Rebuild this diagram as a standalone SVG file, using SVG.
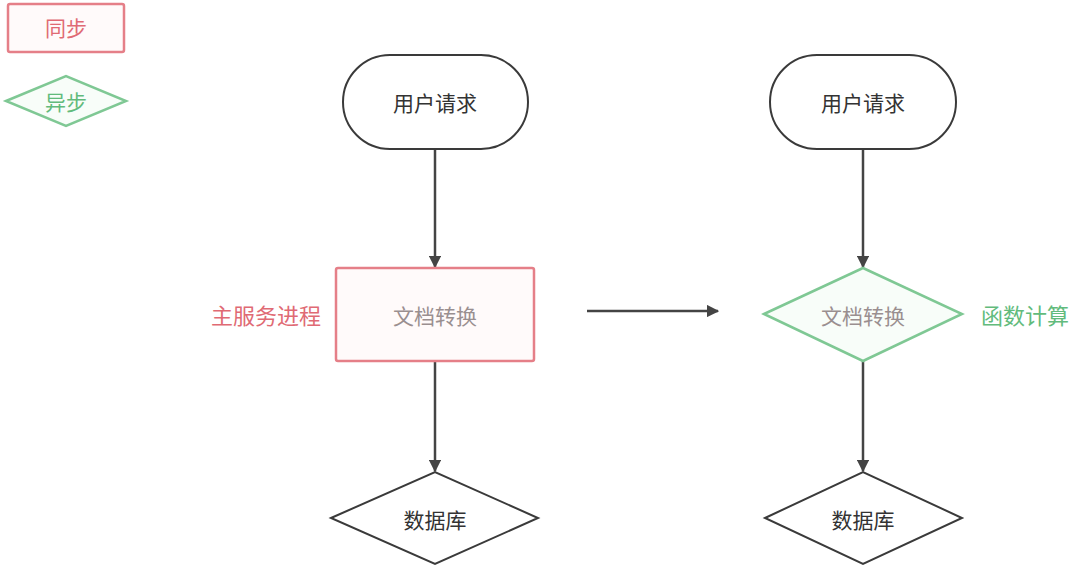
<svg xmlns="http://www.w3.org/2000/svg" width="1080" height="567" viewBox="0 0 1080 567">
<style>
text{font-family:"Liberation Sans","Noto Sans CJK SC",sans-serif;font-size:21px;text-anchor:middle;dominant-baseline:central}
.side{font-size:22px}
.dark{fill:#fff;stroke:#3a3a3a;stroke-width:2}
.red{fill:#fffafa;stroke:#e57f88;stroke-width:2.5}
.green{fill:#f8fdf9;stroke:#7fc894;stroke-width:2.5}
.tdark{fill:#333}
.tred{fill:#e06a74}
.tgreen{fill:#62bb7c}
.tmuted{fill:#9a8f90}
.conn{stroke:#444;stroke-width:2.5;fill:none;marker-end:url(#arr)}
</style>
<defs>
<marker id="arr" viewBox="0 0 10 10" refX="9" refY="5" markerWidth="5" markerHeight="5" orient="auto" markerUnits="strokeWidth">
<path d="M0,0 L10,5 L0,10 z" fill="#444"/>
</marker>
</defs>
<g id="legend-sync"><rect class="red" x="8" y="4" width="116" height="48" rx="2"/><text class="tred" x="66" y="28">同步</text></g>
<g id="legend-async"><polygon class="green" points="6,101 66,76 126,101 66,126"/><text class="tgreen" x="66" y="102">异步</text></g>
<g id="connectors">
<line class="conn" x1="435" y1="149" x2="435" y2="267"/>
<line class="conn" x1="435" y1="361" x2="435" y2="471"/>
<line class="conn" x1="863" y1="149" x2="863" y2="267"/>
<line class="conn" x1="863" y1="361" x2="863" y2="471"/>
<line class="conn" x1="587" y1="311" x2="718" y2="311"/>
</g>
<g id="left-request"><rect class="dark" x="343" y="55" width="185" height="94" rx="47"/><text class="tdark" x="435" y="103">用户请求</text></g>
<g id="left-convert"><rect class="red" x="336" y="268" width="198" height="93" rx="2"/><text class="tmuted" x="435" y="316">文档转换</text></g>
<g id="left-label"><text class="tred side" x="266" y="316">主服务进程</text></g>
<g id="left-db"><polygon class="dark" points="331,518 435,472 538,518 435,564"/><text class="tdark" x="435" y="520">数据库</text></g>
<g id="right-request"><rect class="dark" x="770" y="55" width="186" height="94" rx="47"/><text class="tdark" x="863" y="103">用户请求</text></g>
<g id="right-convert"><polygon class="green" points="764,314 863,268 962,314 863,361"/><text class="tmuted" x="863" y="316">文档转换</text></g>
<g id="right-label"><text class="tgreen side" x="1025" y="316">函数计算</text></g>
<g id="right-db"><polygon class="dark" points="765,518 863,472 962,518 863,564"/><text class="tdark" x="863" y="520">数据库</text></g>
</svg>
